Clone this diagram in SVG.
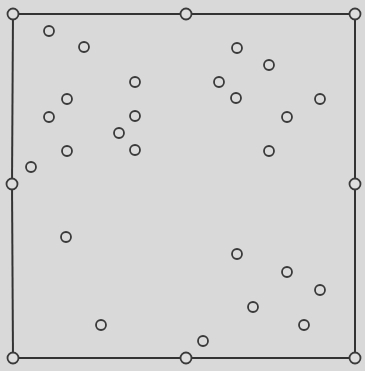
<svg xmlns="http://www.w3.org/2000/svg" width="365" height="371" viewBox="0 0 365 371">
<style>
.e{stroke:#333;stroke-width:2;fill:none}
.v{fill:#dedede;stroke:#3a3a3a;stroke-width:1.8}
.p{fill:#dcdcdc;stroke:#3a3a3a;stroke-width:1.8}
</style>
<rect width="365" height="371" fill="#d9d9d9"/>
<g id="connectors">
<line class="e" x1="13" y1="14" x2="186" y2="14"/>
<line class="e" x1="186" y1="14" x2="355" y2="14"/>
<line class="e" x1="355" y1="14" x2="355" y2="184"/>
<line class="e" x1="355" y1="184" x2="355" y2="358"/>
<line class="e" x1="355" y1="358" x2="186" y2="358"/>
<line class="e" x1="186" y1="358" x2="13" y2="358"/>
<line class="e" x1="13" y1="358" x2="12" y2="184"/>
<line class="e" x1="12" y1="184" x2="13" y2="14"/>
</g>
<g id="v1"><circle class="v" cx="13" cy="14" r="5.5"/></g>
<g id="v2"><circle class="v" cx="186" cy="14" r="5.5"/></g>
<g id="v3"><circle class="v" cx="355" cy="14" r="5.5"/></g>
<g id="v4"><circle class="v" cx="355" cy="184" r="5.5"/></g>
<g id="v5"><circle class="v" cx="355" cy="358" r="5.5"/></g>
<g id="v6"><circle class="v" cx="186" cy="358" r="5.5"/></g>
<g id="v7"><circle class="v" cx="13" cy="358" r="5.5"/></g>
<g id="v8"><circle class="v" cx="12" cy="184" r="5.5"/></g>
<g id="p1"><circle class="p" cx="49" cy="31" r="5"/></g>
<g id="p2"><circle class="p" cx="84" cy="47" r="5"/></g>
<g id="p3"><circle class="p" cx="135" cy="82" r="5"/></g>
<g id="p4"><circle class="p" cx="67" cy="99" r="5"/></g>
<g id="p5"><circle class="p" cx="49" cy="117" r="5"/></g>
<g id="p6"><circle class="p" cx="135" cy="116" r="5"/></g>
<g id="p7"><circle class="p" cx="119" cy="133" r="5"/></g>
<g id="p8"><circle class="p" cx="67" cy="151" r="5"/></g>
<g id="p9"><circle class="p" cx="135" cy="150" r="5"/></g>
<g id="p10"><circle class="p" cx="31" cy="167" r="5"/></g>
<g id="p11"><circle class="p" cx="66" cy="237" r="5"/></g>
<g id="p12"><circle class="p" cx="101" cy="325" r="5"/></g>
<g id="p13"><circle class="p" cx="237" cy="48" r="5"/></g>
<g id="p14"><circle class="p" cx="269" cy="65" r="5"/></g>
<g id="p15"><circle class="p" cx="219" cy="82" r="5"/></g>
<g id="p16"><circle class="p" cx="236" cy="98" r="5"/></g>
<g id="p17"><circle class="p" cx="320" cy="99" r="5"/></g>
<g id="p18"><circle class="p" cx="287" cy="117" r="5"/></g>
<g id="p19"><circle class="p" cx="269" cy="151" r="5"/></g>
<g id="p20"><circle class="p" cx="237" cy="254" r="5"/></g>
<g id="p21"><circle class="p" cx="287" cy="272" r="5"/></g>
<g id="p22"><circle class="p" cx="320" cy="290" r="5"/></g>
<g id="p23"><circle class="p" cx="253" cy="307" r="5"/></g>
<g id="p24"><circle class="p" cx="304" cy="325" r="5"/></g>
<g id="p25"><circle class="p" cx="203" cy="341" r="5"/></g>
</svg>
